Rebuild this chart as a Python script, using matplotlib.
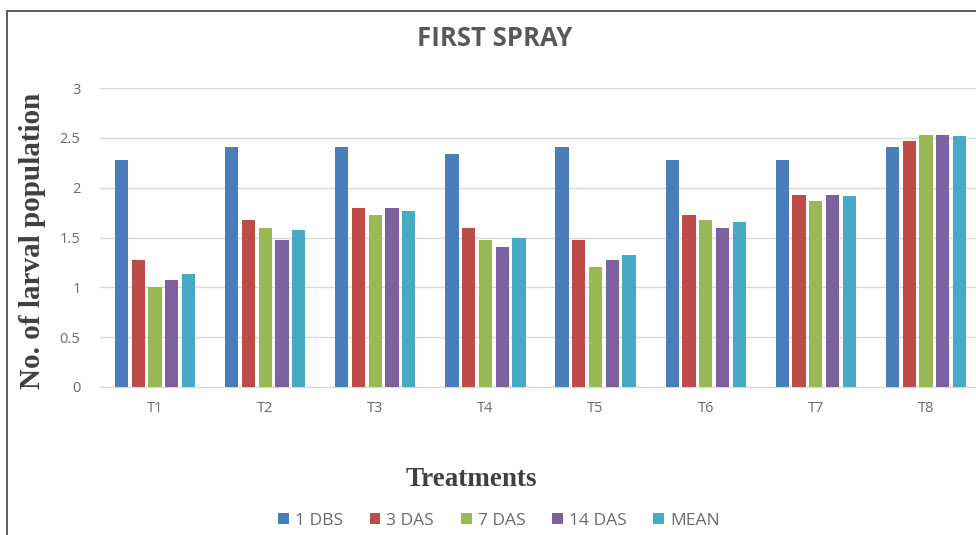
import numpy as np
import matplotlib
matplotlib.use("Agg")
import matplotlib.pyplot as plt
from matplotlib.patches import Rectangle

# data
treatments = ["T1", "T2", "T3", "T4", "T5", "T6", "T7", "T8"]
series_names = ["1 DBS", "3 DAS", "7 DAS", "14 DAS", "MEAN"]
dbs_1 = [2.28, 2.41, 2.41, 2.34, 2.41, 2.28, 2.28, 2.41]
das_3 = [1.27, 1.68, 1.80, 1.60, 1.47, 1.73, 1.93, 2.47]
das_7 = [1.00, 1.60, 1.73, 1.47, 1.20, 1.68, 1.87, 2.53]
das_14 = [1.07, 1.47, 1.80, 1.40, 1.27, 1.60, 1.93, 2.53]
mean = [1.13, 1.58, 1.77, 1.50, 1.32, 1.66, 1.92, 2.52]
y_ticks = [0, 0.5, 1, 1.5, 2, 2.5, 3]
y_tick_labels = ["0", "0.5", "1", "1.5", "2", "2.5", "3"]

colors = ["#4a7ebb", "#be4b48", "#98b954", "#7d60a0", "#46aac5"]
all_series = [dbs_1, das_3, das_7, das_14, mean]

fig = plt.figure(figsize=(9.76, 5.35), dpi=100)
ax = fig.add_axes([100 / 976, 1 - 387 / 535, 876 / 976, 299 / 535])

x = np.arange(len(treatments))
step = 0.152
width = 0.12
for i, (vals, name, c) in enumerate(zip(all_series, series_names, colors)):
    ax.bar(x + (i - 2) * step, vals, width, color=c, label=name, zorder=3)

ax.set_ylim(0, 3)
ax.set_xlim(-0.5, 7.5 - 5 / 110)
ax.set_yticks(y_ticks)
ax.set_yticklabels(y_tick_labels)
ax.set_xticks(x)
ax.set_xticklabels(treatments)
ax.grid(axis="y", color="#d9d9d9", linewidth=1, zorder=0)
for s in ["top", "right", "left"]:
    ax.spines[s].set_visible(False)
ax.spines["bottom"].set_color("#d9d9d9")
ax.tick_params(axis="both", length=0, colors="#6a6a6a", labelsize=10.5)
ax.tick_params(axis="y", pad=14)
ax.tick_params(axis="x", pad=10)
for lab in ax.get_xticklabels() + ax.get_yticklabels():
    lab.set_fontfamily("Open Sans")

fig.text(495 / 976, 1 - 38 / 535, "FIRST SPRAY", ha="center", va="center",
         fontsize=18.5, fontweight="bold", color="#595959", family="Open Sans")
fig.text(33 / 976, 1 - 241 / 535, "No. of larval population", rotation=90,
         ha="center", va="center", fontsize=21, fontweight="bold",
         color="#404040", family="Liberation Serif")
fig.text(471 / 976, 1 - 480 / 535, "Treatments", ha="center", va="center",
         fontsize=19.5, fontweight="bold", color="#404040", family="Liberation Serif")

leg = fig.legend(loc="center", bbox_to_anchor=(499 / 976, 1 - 521 / 535), ncol=5,
                 frameon=False, handlelength=0.6, handleheight=0.6,
                 handletextpad=0.35, columnspacing=1.55,
                 prop={"family": "Open Sans", "size": 12.5})
for t in leg.get_texts():
    t.set_color("#6a6a6a")

# outer frame of the chart area
fig.patches.append(Rectangle((7 / 976, -0.01), 1.0, 1 - 11 / 535 + 0.01,
                             transform=fig.transFigure, fill=False,
                             edgecolor="#505050", linewidth=1.3))

fig.savefig("out.png", dpi=100)
